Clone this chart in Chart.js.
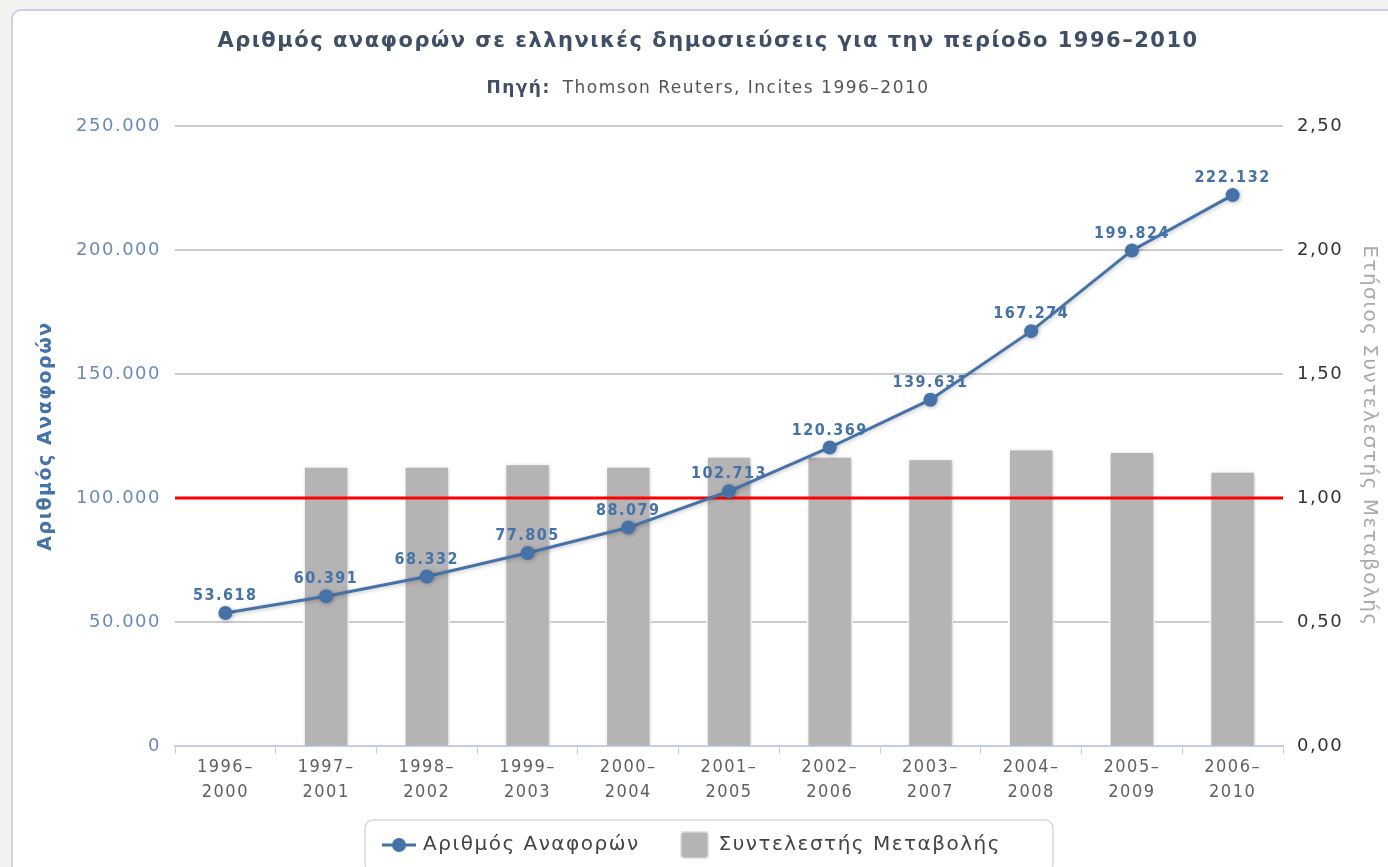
<!DOCTYPE html>
<html>
<head>
<meta charset="utf-8">
<script src="https://cdn.jsdelivr.net/npm/chart.js@4/dist/chart.umd.min.js"></script>
<style>
  html, body { margin:0; padding:0; width:1388px; height:867px; overflow:hidden; background:#f2f2f0; }
  #card { position:absolute; left:11px; top:9px; width:1410px; height:900px; box-sizing:border-box;
          background:#fff; border:2px solid #c9d3e2; border-radius:10px; }
  #chart { position:absolute; left:12px; top:10px; }
</style>
</head>
<body>
<div id="card"></div>
<canvas id="chart" width="1392" height="866"></canvas>
<script>
/* --- data --- */
const periods = [
  ['1996–','2000'], ['1997–','2001'], ['1998–','2002'], ['1999–','2003'],
  ['2000–','2004'], ['2001–','2005'], ['2002–','2006'], ['2003–','2007'],
  ['2004–','2008'], ['2005–','2009'], ['2006–','2010']
];
const citations  = [53618, 60391, 68332, 77805, 88079, 102713, 120369, 139631, 167274, 199824, 222132];
const changeRate = [null, 1.13, 1.13, 1.14, 1.13, 1.17, 1.17, 1.16, 1.20, 1.19, 1.11];
const citationTicks = [0, 50000, 100000, 150000, 200000, 250000];
const rateTicks     = [0, 0.5, 1, 1.5, 2, 2.5];
const rateBaseline  = 1;
const seriesNames   = ['Αριθμός Αναφορών', 'Συντελεστής Μεταβολής'];

const BLUE = '#4572A7';
const BAR  = '#b5b3b4';
const fmtThousands = v => String(v).replace(/\B(?=(\d{3})+(?!\d))/g, '.');
const fmtRate = v => v.toFixed(2).replace('.', ',');

Chart.defaults.font.family = '"DejaVu Sans", sans-serif';

// legend icons
function lineIcon() {
  const c = document.createElement('canvas'); c.width = 34; c.height = 16;
  const x = c.getContext('2d');
  x.strokeStyle = BLUE; x.lineWidth = 3;
  x.beginPath(); x.moveTo(0, 8); x.lineTo(34, 8); x.stroke();
  x.fillStyle = BLUE; x.beginPath(); x.arc(17, 8, 7, 0, Math.PI * 2); x.fill();
  return c;
}
function boxIcon() {
  const c = document.createElement('canvas'); c.width = 29; c.height = 28;
  const x = c.getContext('2d');
  x.fillStyle = '#e4e4e4'; x.beginPath(); x.roundRect(0, 0, 29, 28, 4); x.fill();
  x.fillStyle = BAR; x.beginPath(); x.roundRect(1.5, 1.5, 26, 25, 3); x.fill();
  return c;
}

const spacing = {
  id: 'spacing',
  beforeUpdate(c) { c.ctx.letterSpacing = '1.5px'; },
  beforeDraw(c)   { c.ctx.letterSpacing = '1.5px'; }
};

// nudge the legend into the place it has in the original
const legendShift = { id: 'legendShift',
  afterLayout(c) {
    const l = c.legend;
    l.top -= 11; l.bottom -= 11;
    l.left -= 15; l.right -= 15;
  }
};

const extras = {
  id: 'extras',
  beforeDatasetDraw(c, args) {
    const ctx = c.ctx;
    ctx.save();
    ctx.shadowColor = args.index === 0 ? 'rgba(0,0,0,0.25)' : 'rgba(0,0,0,0.18)';
    ctx.shadowBlur = 4; ctx.shadowOffsetX = 1; ctx.shadowOffsetY = 1;
  },
  afterDatasetDraw(c, args) {
    const ctx = c.ctx;
    ctx.restore();
    if (args.index === 1) {
      const y = c.scales.y1.getPixelForValue(rateBaseline);
      ctx.save();
      ctx.strokeStyle = '#ff0000'; ctx.lineWidth = 3;
      ctx.beginPath(); ctx.moveTo(c.chartArea.left, y); ctx.lineTo(c.chartArea.right, y); ctx.stroke();
      ctx.restore();
    }
  },
  afterDatasetsDraw(c) {
    const ctx = c.ctx;
    const meta = c.getDatasetMeta(0);
    ctx.save();
    ctx.font = 'bold 16px "DejaVu Sans Condensed", "DejaVu Sans"';
    ctx.fillStyle = BLUE; ctx.textAlign = 'center'; ctx.textBaseline = 'middle';
    meta.data.forEach((pt, i) => ctx.fillText(fmtThousands(citations[i]), pt.x, pt.y - 17));
    ctx.restore();
  },
  afterDraw(c) {
    const ctx = c.ctx;
    // subtitle
    ctx.save();
    ctx.textBaseline = 'middle';
    const bold = 'bold 17px "DejaVu Sans"', norm = '17px "DejaVu Sans"';
    const a = 'Πηγή:', b = 'Thomson Reuters, Incites 1996–2010';
    ctx.font = bold; const wa = ctx.measureText(a).width;
    ctx.font = norm; const wb = ctx.measureText(b).width;
    const gap = 12, x0 = c.width / 2 - (wa + gap + wb) / 2;
    ctx.font = bold; ctx.fillStyle = '#3e4f66'; ctx.fillText(a, x0, 79);
    ctx.font = norm; ctx.fillStyle = '#555'; ctx.fillText(b, x0 + wa + gap, 79);
    // legend frame
    const hb = c.legend.legendHitBoxes;
    if (hb && hb.length) {
      const first = hb[0], last = hb[hb.length - 1];
      const cy = first.top + first.height / 2;
      const x0f = first.left - 20, x1f = last.left + last.width + 52;
      ctx.strokeStyle = '#d9d9d9'; ctx.lineWidth = 1.5;
      ctx.beginPath();
      ctx.roundRect(x0f, cy - 25, x1f - x0f, 52, 8);
      ctx.stroke();
    }
    ctx.restore();
  }
};

new Chart(document.getElementById('chart'), {
  type: 'bar',
  data: {
    labels: periods,
    datasets: [
      {
        type: 'line', label: seriesNames[0], data: citations, yAxisID: 'y', order: 1,
        borderColor: BLUE, borderWidth: 3, tension: 0,
        pointRadius: 7, pointBackgroundColor: BLUE, pointBorderWidth: 0
      },
      {
        type: 'bar', label: seriesNames[1], data: changeRate, yAxisID: 'y1', order: 2,
        backgroundColor: BAR, borderColor: '#ffffff', borderWidth: 2,
        barPercentage: 0.46, categoryPercentage: 1
      }
    ]
  },
  options: {
    responsive: false,
    animation: false,
    layout: { padding: 0 },
    scales: {
      x: {
        offset: true,
        grid: { offset: true, drawOnChartArea: false, drawTicks: true, tickLength: 8, color: '#c0d0e0' },
        border: { color: '#c0d0e0', width: 2 },
        ticks: { color: '#606060', autoSkip: false, maxRotation: 0, padding: 1,
                 font: { family: '"DejaVu Sans Condensed", "DejaVu Sans"', size: 18, lineHeight: 1.4 } },
        afterFit(s) { s.height = 59; }
      },
      y: {
        position: 'left', min: 0, max: 250000,
        afterBuildTicks(s) { s.ticks = citationTicks.map(v => ({ value: v })); },
        grid: { color: t => t.tick && t.tick.value === 0 ? 'rgba(0,0,0,0)' : '#cccccc', lineWidth: 2, drawTicks: false },
        border: { display: false },
        ticks: { color: '#6b8bb5', padding: 14, font: { size: 18 }, callback: v => fmtThousands(v) },
        title: { display: true, text: 'Αριθμός Αναφορών', color: BLUE,
                 font: { size: 19, weight: 'bold' }, padding: { top: 22.6, bottom: 0 } },
        afterFit(s) { s.width = 163; }
      },
      y1: {
        position: 'right', min: 0, max: 2.5,
        afterBuildTicks(s) { s.ticks = rateTicks.map(v => ({ value: v })); },
        grid: { drawOnChartArea: false, drawTicks: false },
        border: { display: false },
        ticks: { color: '#333', padding: 14, font: { size: 18 }, callback: v => fmtRate(v) },
        title: { display: true, text: 'Ετήσιος Συντελεστής Μεταβολής', color: '#aaaaaa',
                 font: { size: 20 }, padding: { top: 22.6, bottom: 0 } },
        afterFit(s) { s.width = 121; }
      }
    },
    plugins: {
      title: {
        display: true,
        text: 'Αριθμός αναφορών σε ελληνικές δημοσιεύσεις για την περίοδο 1996–2010',
        color: '#3e4f66', font: { size: 21, weight: 'bold', lineHeight: 1.2 },
        padding: { top: 19.4, bottom: 71.4 }
      },
      legend: {
        position: 'bottom',
        labels: {
          usePointStyle: true, pointStyleWidth: 28, padding: 41, color: '#444', font: { size: 20 },
          generateLabels(c) {
            const items = Chart.defaults.plugins.legend.labels.generateLabels(c);
            items[0].pointStyle = lineIcon();
            items[1].pointStyle = boxIcon();
            return items;
          }
        }
      },
      tooltip: { enabled: false }
    }
  },
  plugins: [spacing, legendShift, extras]
});
</script>
</body>
</html>
